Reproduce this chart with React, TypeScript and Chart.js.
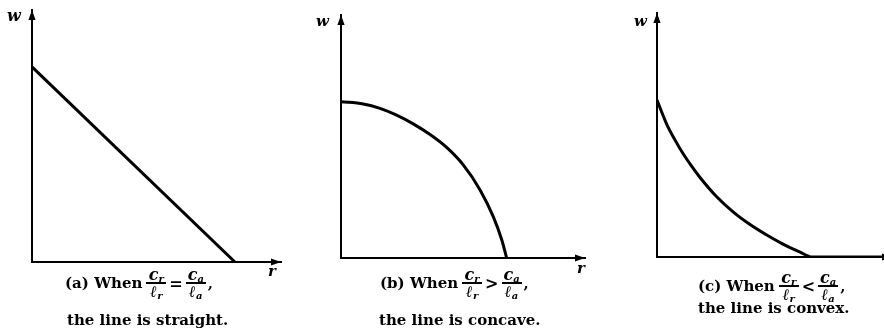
import React, { useEffect, useRef } from "react";
import { Chart, registerables } from "chart.js";

Chart.register(...registerables);

// ---- data (arbitrary units, both axes 0..10) ----
const axisMin = 0;
const axisMax = 10;

const straightR = [0, 8.15];
const straightW = [7.74, 0];

const concaveR = [0, 0.91, 1.6, 2.28, 2.96, 3.65, 4.33, 5.01, 5.7, 6.24, 6.59, 6.79];
const concaveW = [6.43, 6.34, 6.16, 5.88, 5.52, 5.08, 4.55, 3.83, 2.8, 1.7, 0.74, 0];

const convexR = [0, 0.41, 0.77, 1.12, 1.48, 1.83, 2.54, 3.25, 3.96, 4.67, 5.38, 6.09, 6.6, 10];
const convexW = [6.43, 5.45, 4.79, 4.22, 3.71, 3.26, 2.47, 1.84, 1.33, 0.9, 0.52, 0.2, 0, 0];

const yAxisLabel = "w";
const xAxisLabel = "r";
const captionsLead = ["(a) When", "(b) When", "(c) When"];
const captionsOp = ["=", ">", "<"];
const captionsTail = [
  "the line is straight.",
  "the line is concave.",
  "the line is convex.",
];

const FONT = '"DejaVu Serif", "Liberation Serif", serif';

const arrowPlugin = {
  id: "axisArrows",
  afterDraw(chart: any) {
    const { ctx, chartArea } = chart;
    const { left, top, right, bottom } = chartArea;
    const L = 10;
    const H = 3.6;
    ctx.save();
    ctx.fillStyle = "#000";
    ctx.beginPath();
    ctx.moveTo(left, top);
    ctx.lineTo(left - H, top + L);
    ctx.lineTo(left + H, top + L);
    ctx.closePath();
    ctx.fill();
    ctx.beginPath();
    ctx.moveTo(right, bottom);
    ctx.lineTo(right - L, bottom - H);
    ctx.lineTo(right - L, bottom + H);
    ctx.closePath();
    ctx.fill();
    ctx.restore();
  },
};

type PanelProps = {
  left: number;
  width: number;
  height: number;
  pad: { left: number; top: number; right: number; bottom: number };
  xs: number[];
  ys: number[];
  smooth: boolean;
};

function Panel({ left, width, height, pad, xs, ys, smooth }: PanelProps) {
  const ref = useRef<HTMLCanvasElement>(null);
  useEffect(() => {
    if (!ref.current) return;
    const axis = {
      type: "linear" as const,
      min: axisMin,
      max: axisMax,
      ticks: { display: false },
      grid: { display: false, drawTicks: false },
      border: { display: true, color: "#000", width: 2 },
      title: { display: false },
    };
    const chart = new Chart(ref.current, {
      type: "line",
      data: {
        datasets: [
          {
            data: xs.map((x, i) => ({ x, y: ys[i] })),
            borderColor: "#000",
            borderWidth: 3,
            pointRadius: 0,
            fill: false,
            tension: 0,
            cubicInterpolationMode: smooth ? "monotone" : "default",
            borderCapStyle: "butt",
            borderJoinStyle: "round",
          } as any,
        ],
      },
      options: {
        responsive: false,
        animation: false,
        devicePixelRatio: 1,
        events: [],
        layout: { padding: pad },
        plugins: {
          legend: { display: false },
          tooltip: { enabled: false },
        },
        scales: { x: axis, y: axis },
      } as any,
      plugins: [arrowPlugin],
    });
    return () => chart.destroy();
  }, []);
  return (
    <canvas
      ref={ref}
      width={width}
      height={height}
      style={{ position: "absolute", left, top: 0, width, height }}
    />
  );
}

function Frac({ num, numSub, den, denSub }: { num: string; numSub: string; den: string; denSub: string }) {
  const part = (main: string, sub: string) => (
    <span style={{ display: "block", lineHeight: "13px", height: 13, textAlign: "center", whiteSpace: "nowrap" }}>
      <span style={{ fontStyle: "italic", fontSize: 16 }}>{main}</span>
      <span style={{ fontStyle: "italic", fontSize: 10, position: "relative", top: 2 }}>{sub}</span>
    </span>
  );
  return (
    <span style={{ display: "inline-flex", flexDirection: "column", alignItems: "stretch", margin: "0 2px", width: 20 }}>
      {part(num, numSub)}
      <span style={{ display: "block", height: 1.5, background: "#000", margin: "1px 0" }} />
      {part(den, denSub)}
    </span>
  );
}

function Caption({ i, x, cy, x2, base2 }: { i: number; x: number; cy: number; x2: number; base2: number }) {
  const txt: React.CSSProperties = { fontFamily: FONT, fontWeight: "bold", fontSize: 15, lineHeight: "15px", color: "#000" };
  return (
    <>
      <div
        style={{
          position: "absolute",
          left: x,
          top: cy - 14.5,
          height: 29,
          display: "flex",
          alignItems: "center",
          whiteSpace: "nowrap",
          ...txt,
        }}
      >
        <span style={{ marginRight: 2 }}>{captionsLead[i]}</span>
        <Frac num="c" numSub="r" den="ℓ" denSub="r" />
        <span style={{ margin: "0 1px", fontSize: 16 }}>{captionsOp[i]}</span>
        <Frac num="c" numSub="a" den="ℓ" denSub="a" />
        <span>,</span>
      </div>
      <div style={{ position: "absolute", left: x2, top: base2 - 12.7, whiteSpace: "nowrap", ...txt }}>
        {captionsTail[i]}
      </div>
    </>
  );
}

function AxisLetter({ text, x, base, size }: { text: string; x: number; base: number; size: number }) {
  return (
    <div
      style={{
        position: "absolute",
        left: x,
        top: base - (size / 2 + 0.346 * size),
        fontFamily: FONT,
        fontStyle: "italic",
        fontWeight: "bold",
        fontSize: size,
        lineHeight: `${size}px`,
        color: "#000",
      }}
    >
      {text}
    </div>
  );
}

export default function App() {
  return (
    <div
      style={{
        position: "fixed",
        left: 0,
        top: 0,
        width: 884,
        height: 329,
        overflow: "hidden",
        background: "#fff",
      }}
    >
      <Panel
        left={0}
        width={300}
        height={329}
        pad={{ left: 32, top: 10, right: 19, bottom: 67 }}
        xs={straightR}
        ys={straightW}
        smooth={false}
      />
      <Panel
        left={300}
        width={300}
        height={329}
        pad={{ left: 41, top: 15, right: 15, bottom: 71 }}
        xs={concaveR}
        ys={concaveW}
        smooth={true}
      />
      <Panel
        left={600}
        width={300}
        height={329}
        pad={{ left: 57, top: 13, right: 8, bottom: 72 }}
        xs={convexR}
        ys={convexW}
        smooth={true}
      />

      <AxisLetter text={yAxisLabel} x={7} base={22} size={16} />
      <AxisLetter text={xAxisLabel} x={268} base={277} size={15} />
      <AxisLetter text={yAxisLabel} x={316} base={27} size={15} />
      <AxisLetter text={xAxisLabel} x={577} base={274} size={15} />
      <AxisLetter text={yAxisLabel} x={634} base={27} size={15} />

      <Caption i={0} x={65} cy={283} x2={67} base2={326} />
      <Caption i={1} x={380} cy={283} x2={379} base2={326} />
      <Caption i={2} x={698} cy={286} x2={698} base2={314} />
    </div>
  );
}
